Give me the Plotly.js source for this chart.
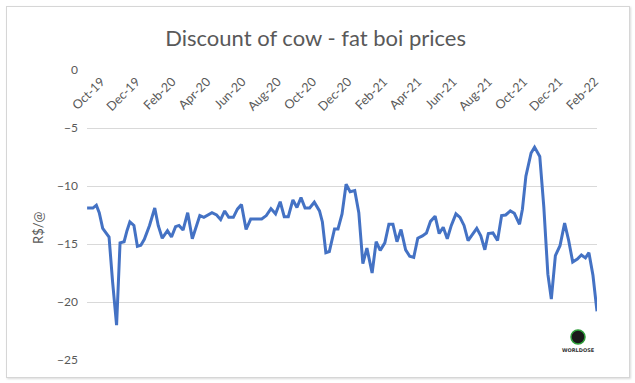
<!DOCTYPE html>
<html>
<head>
<meta charset="utf-8">
<script src="https://cdn.plot.ly/plotly-3.0.1.min.js"></script>
<style>
  html, body { margin: 0; padding: 0; background: #ffffff; }
  #wrap { position: relative; width: 635px; height: 383px; }
  #chart { width: 635px; height: 383px; }
  #frame { position: absolute; left: 6px; top: 6px; width: 622px; height: 370px;
           border: 1px solid #d6d6d6; box-shadow: 1px 1px 2px rgba(0,0,0,0.15); pointer-events: none; }
</style>
</head>
<body>
<div id="wrap">
  <div id="chart"></div>
  <div id="frame"></div>
</div>
<script>
// Observation dates, as days after the first observation (2019-10-04)
const startDate = '2019-10-04';
const endDate = '2022-03-04';
const dayOffsets = [
  0, 10, 16, 21, 27, 32, 38, 44, 51, 57, 64, 69, 74, 81, 87, 93, 99, 108, 117, 123,
  130, 139, 146, 153, 159, 166, 174, 182, 189, 195, 202, 209, 216, 224, 231, 238, 245, 253, 260, 267,
  275, 283, 290, 297, 302, 310, 318, 326, 334, 341, 348, 356, 363, 370, 377, 385, 393, 402, 407, 413,
  419, 428, 434, 441, 448, 455, 463, 470, 477, 484, 493, 500, 507, 515, 522, 529, 536, 543, 551, 558,
  565, 572, 580, 587, 594, 602, 609, 616, 623, 630, 638, 645, 652, 659, 667, 674, 681, 688, 694, 702,
  710, 717, 724, 732, 739, 748, 753, 759, 768, 774, 783, 790, 797, 803, 810, 818, 826, 833, 840, 848,
  855, 862, 868, 875, 882
];
// Discount of cow price vs fat boi price, R$/@
const discount = [
  -11.9, -11.9, -11.65, -12.3, -13.65, -14.0, -14.4, -18.2, -22.0, -14.9, -14.8, -13.85, -13.1, -13.4, -15.2, -15.1, -14.6, -13.4, -11.9, -13.4,
  -14.5, -13.85, -14.4, -13.5, -13.4, -13.8, -12.3, -14.55, -13.4, -12.55, -12.7, -12.5, -12.3, -12.5, -12.9, -12.15, -12.7, -12.7, -12.0, -11.6,
  -13.75, -12.85, -12.85, -12.85, -12.85, -12.55, -11.95, -12.4, -11.35, -12.65, -12.65, -11.2, -11.85, -11.0, -11.9, -11.9, -11.4, -12.15, -13.1, -15.75,
  -15.65, -13.7, -13.7, -12.4, -9.85, -10.5, -10.4, -12.3, -16.7, -15.35, -17.5, -14.8, -15.55, -14.9, -13.3, -13.3, -14.8, -13.75, -15.5, -16.05,
  -16.15, -14.5, -14.3, -14.05, -13.05, -12.6, -14.1, -13.55, -14.55, -13.4, -12.4, -12.7, -13.4, -14.7, -14.1, -13.65, -14.3, -15.5, -14.1, -14.05,
  -14.7, -12.55, -12.5, -12.15, -12.35, -13.3, -12.0, -9.15, -7.15, -6.65, -7.45, -11.8, -17.6, -19.75, -16.0, -15.15, -13.2, -14.7, -16.55, -16.3,
  -15.95, -16.2, -15.75, -17.7, -20.8
];
const dates = dayOffsets.map(d => {
  const t = new Date(startDate + 'T00:00:00Z');
  t.setUTCDate(t.getUTCDate() + d);
  return t.toISOString().slice(0, 10);
});
const titleText = 'Discount of cow - fat boi prices';
const yTitle = 'R$/@';
const yTicks = [-25, -20, -15, -10, -5, 0];

const gray = '#595959';
const W = 635, H = 383, L = 87, R = 38, T = 70, B = 23;
const pw = W - L - R, ph = H - T - B;
const px = x => (x - L) / pw;
const py = y => (H - B - y) / ph;

const trace = {
  x: dates, y: discount, type: 'scatter', mode: 'lines',
  line: { color: '#4472C4', width: 3 }, hoverinfo: 'x+y'
};

const layout = {
  width: W, height: H,
  margin: { l: L, r: R, t: T, b: B },
  paper_bgcolor: '#ffffff', plot_bgcolor: '#ffffff',
  font: { family: 'Lato, Carlito, "Open Sans", sans-serif', color: gray, size: 12 },
  showlegend: false,
  title: { text: titleText, font: { size: 22, color: gray, family: 'Lato, sans-serif' },
           xref: 'container', x: 0.497, xanchor: 'center', yref: 'container', y: 1 - 38 / H, yanchor: 'middle' },
  xaxis: {
    type: 'date', range: ['2019-10-03 20:00', endDate],
    anchor: 'free', position: 1, side: 'bottom',
    tick0: startDate, dtick: 'M2', tickformat: '%b-%y', tickangle: -45,
    showgrid: false, zeroline: false, showline: false, ticks: '',
    ticklabelshift: 14, ticklabelstandoff: 1,
    tickfont: { size: 12.5, color: gray }
  },
  yaxis: {
    range: [-25, 0], tickvals: yTicks, showgrid: true, gridcolor: '#d9d9d9', gridwidth: 1,
    zeroline: false, showline: false, ticks: '', ticklabelstandoff: 8,
    tickfont: { size: 12, color: gray }
  },
  shapes: [
    { type: 'rect', xref: 'paper', yref: 'paper', layer: 'above',
      x0: px(554), x1: px(606), y0: py(372), y1: py(325), fillcolor: '#ffffff', line: { width: 0 } },
    { type: 'circle', xref: 'paper', yref: 'paper', layer: 'above',
      x0: px(571), x1: px(585), y0: py(344), y1: py(330), fillcolor: '#1a1a1a', line: { color: '#2e9e3a', width: 1.5 } }
  ],
  annotations: [
    { xref: 'paper', yref: 'paper', x: px(38), y: py(228), text: yTitle, textangle: -90, showarrow: false,
      font: { size: 13, color: gray }, xanchor: 'center', yanchor: 'middle' },
    { xref: 'paper', yref: 'paper', x: px(578), y: py(350), text: '<b>WORLDOSE</b>', showarrow: false,
      font: { size: 5, color: '#333333', family: 'DejaVu Sans' }, xanchor: 'center', yanchor: 'middle' }
  ]
};

Plotly.newPlot('chart', [trace], layout, { displayModeBar: false, staticPlot: true });
</script>
</body>
</html>
